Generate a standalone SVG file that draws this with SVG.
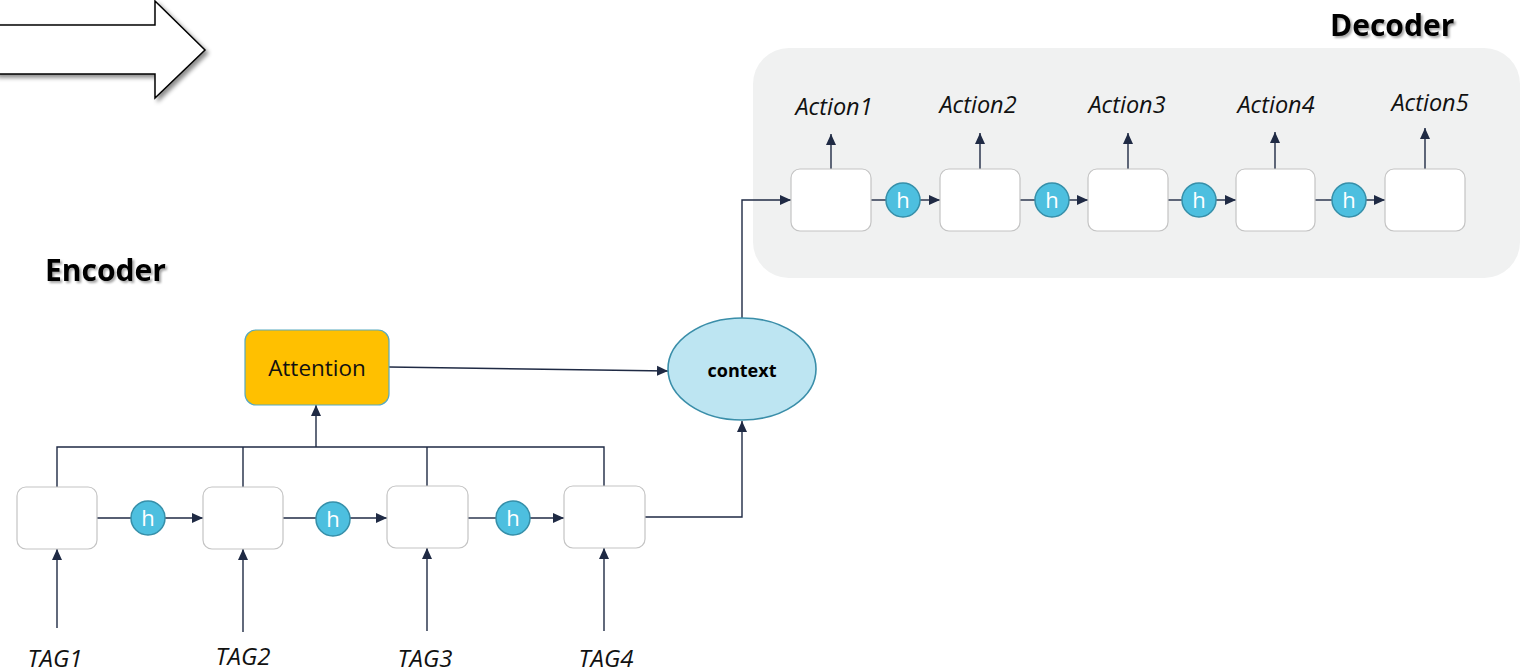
<svg xmlns="http://www.w3.org/2000/svg" width="1529" height="672" viewBox="0 0 1529 672">
<style>
.box{fill:#fff;stroke:#c4c4c4;stroke-width:1.2}
.hc{fill:#4dbfdf;stroke:#368fa9;stroke-width:1.5}
.ht{font-family:"Open Sans",sans-serif;font-size:22px;fill:#fff;text-anchor:middle}
.ln{fill:none;stroke:#1f2a44;stroke-width:1.4}
.lab{font-family:"Open Sans",sans-serif;font-style:italic;fill:#111;text-anchor:middle}
.tag{font-size:24px}
.act{font-size:23.5px}
.head{font-family:"Open Sans",sans-serif;font-weight:bold;font-size:30px;fill:#000;filter:url(#tsh)}
</style>
<defs>
<marker id="ar" markerUnits="userSpaceOnUse" markerWidth="12" markerHeight="12" refX="11" refY="5" orient="auto" viewBox="0 0 12 10">
<path d="M0,0 L11,5 L0,10 z" fill="#1f2a44"/>
</marker>
<filter id="sh" x="-20%" y="-20%" width="150%" height="150%">
<feDropShadow dx="3" dy="3" stdDeviation="2" flood-color="#000" flood-opacity="0.45"/>
</filter>
<filter id="tsh" x="-10%" y="-20%" width="130%" height="150%">
<feDropShadow dx="2" dy="2" stdDeviation="1.2" flood-color="#000" flood-opacity="0.35"/>
</filter>
</defs>

<g id="bigarrow">
<polygon points="-5,25 155,25 155,1 205,50 155,98 155,74 -5,74" fill="#fff" stroke="#000" stroke-width="1.5" filter="url(#sh)"/>
</g>

<g id="decoder-bg">
<rect x="753" y="48" width="767" height="230" rx="36" fill="#f0f1f1"/>
</g>

<text id="encoder-title" class="head" x="45" y="281">Encoder</text>
<text id="decoder-title" class="head" x="1330" y="36">Decoder</text>

<g id="connectors">
<line class="ln" x1="97" y1="518" x2="131" y2="518"/>
<line class="ln" x1="165" y1="518" x2="203" y2="518" marker-end="url(#ar)"/>
<line class="ln" x1="283" y1="518" x2="316" y2="518"/>
<line class="ln" x1="350" y1="518" x2="387" y2="518" marker-end="url(#ar)"/>
<line class="ln" x1="468" y1="518" x2="496" y2="518"/>
<line class="ln" x1="530" y1="518" x2="564" y2="518" marker-end="url(#ar)"/>
<line class="ln" x1="57" y1="628" x2="57" y2="549" marker-end="url(#ar)"/>
<line class="ln" x1="243" y1="632" x2="243" y2="549" marker-end="url(#ar)"/>
<line class="ln" x1="427" y1="631" x2="427" y2="548" marker-end="url(#ar)"/>
<line class="ln" x1="604" y1="631" x2="604" y2="548" marker-end="url(#ar)"/>
<polyline class="ln" points="57,487 57,447 604,447 604,487"/>
<line class="ln" x1="243" y1="487" x2="243" y2="447"/>
<line class="ln" x1="427" y1="487" x2="427" y2="447"/>
<line class="ln" x1="316" y1="447" x2="316" y2="405" marker-end="url(#ar)"/>
<line class="ln" x1="389" y1="367" x2="668" y2="371" marker-end="url(#ar)"/>
<polyline class="ln" points="645,517 742,517 742,421" marker-end="url(#ar)"/>
<polyline class="ln" points="742,318 742,200 791,200" marker-end="url(#ar)"/>
<line class="ln" x1="871" y1="200" x2="886" y2="200"/>
<line class="ln" x1="920" y1="200" x2="940" y2="200" marker-end="url(#ar)"/>
<line class="ln" x1="1020" y1="200" x2="1035" y2="200"/>
<line class="ln" x1="1069" y1="200" x2="1088" y2="200" marker-end="url(#ar)"/>
<line class="ln" x1="1168" y1="200" x2="1182" y2="200"/>
<line class="ln" x1="1216" y1="200" x2="1236" y2="200" marker-end="url(#ar)"/>
<line class="ln" x1="1315" y1="200" x2="1332" y2="200"/>
<line class="ln" x1="1366" y1="200" x2="1385" y2="200" marker-end="url(#ar)"/>
<line class="ln" x1="831" y1="169" x2="831" y2="134" marker-end="url(#ar)"/>
<line class="ln" x1="980" y1="169" x2="980" y2="133" marker-end="url(#ar)"/>
<line class="ln" x1="1128" y1="169" x2="1128" y2="133" marker-end="url(#ar)"/>
<line class="ln" x1="1275" y1="169" x2="1275" y2="132" marker-end="url(#ar)"/>
<line class="ln" x1="1425" y1="169" x2="1425" y2="128" marker-end="url(#ar)"/>
</g>

<g id="enc1"><rect class="box" x="17" y="487" width="80" height="62" rx="9"/></g>
<g id="enc2"><rect class="box" x="203" y="487" width="80" height="62" rx="9"/></g>
<g id="enc3"><rect class="box" x="387" y="486" width="81" height="62" rx="9"/></g>
<g id="enc4"><rect class="box" x="564" y="486" width="81" height="62" rx="9"/></g>

<g id="eh1"><circle class="hc" cx="148" cy="518" r="17"/><text class="ht" x="148" y="526">h</text></g>
<g id="eh2"><circle class="hc" cx="333" cy="519" r="17"/><text class="ht" x="333" y="527">h</text></g>
<g id="eh3"><circle class="hc" cx="513" cy="518" r="17"/><text class="ht" x="513" y="526">h</text></g>

<g id="tag1"><text class="lab tag" x="55" y="667">TAG1</text></g>
<g id="tag2"><text class="lab tag" x="243" y="665">TAG2</text></g>
<g id="tag3"><text class="lab tag" x="425" y="667">TAG3</text></g>
<g id="tag4"><text class="lab tag" x="606" y="667">TAG4</text></g>

<g id="attention">
<rect x="245" y="330" width="144" height="75" rx="11" fill="#ffc000" stroke="#58a9bf" stroke-width="1.2"/>
<text x="317" y="376" font-family="Open Sans, sans-serif" font-size="22.5" fill="#111" text-anchor="middle">Attention</text>
</g>

<g id="context">
<ellipse cx="742" cy="369" rx="74" ry="51" fill="#bde5f2" stroke="#3a8ea9" stroke-width="1.6"/>
<text x="742" y="377" font-family="Open Sans, sans-serif" font-weight="bold" font-size="18" fill="#000" text-anchor="middle">context</text>
</g>

<g id="dec1"><rect class="box" x="791" y="169" width="80" height="62" rx="9"/></g>
<g id="dec2"><rect class="box" x="940" y="169" width="80" height="62" rx="9"/></g>
<g id="dec3"><rect class="box" x="1088" y="169" width="80" height="62" rx="9"/></g>
<g id="dec4"><rect class="box" x="1236" y="169" width="79" height="62" rx="9"/></g>
<g id="dec5"><rect class="box" x="1385" y="169" width="80" height="62" rx="9"/></g>

<g id="dh1"><circle class="hc" cx="903" cy="200" r="17"/><text class="ht" x="903" y="208">h</text></g>
<g id="dh2"><circle class="hc" cx="1052" cy="200" r="17"/><text class="ht" x="1052" y="208">h</text></g>
<g id="dh3"><circle class="hc" cx="1199" cy="200" r="17"/><text class="ht" x="1199" y="208">h</text></g>
<g id="dh4"><circle class="hc" cx="1349" cy="200" r="17"/><text class="ht" x="1349" y="208">h</text></g>

<g id="act1"><text class="lab act" x="834" y="115">Action1</text></g>
<g id="act2"><text class="lab act" x="978" y="113">Action2</text></g>
<g id="act3"><text class="lab act" x="1127" y="113">Action3</text></g>
<g id="act4"><text class="lab act" x="1276" y="113">Action4</text></g>
<g id="act5"><text class="lab act" x="1430" y="111">Action5</text></g>
</svg>
